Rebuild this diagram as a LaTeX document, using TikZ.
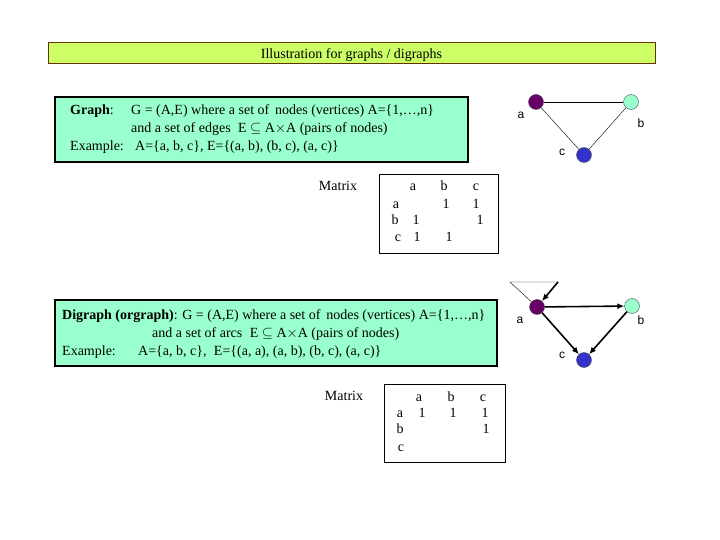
\documentclass[tikz,border=0pt]{standalone}
\usepackage{amsmath,amssymb}
\usepackage{fontspec}
\setmainfont{Liberation Serif}
\newfontfamily\labelfont{Liberation Sans}
\usetikzlibrary{arrows.meta,positioning}
\definecolor{titlelime}{RGB}{204,255,102}
\definecolor{titlebrown}{RGB}{102,51,0}
\definecolor{boxaqua}{RGB}{153,255,204}
\definecolor{vpurple}{RGB}{102,0,102}
\definecolor{vaqua}{RGB}{153,255,204}
\definecolor{vblue}{RGB}{51,51,204}
\newcommand{\vertex}[4]{%
  \node[vertex,fill=#4] (#1) at (#2,#3) {};
}
\newcommand{\mcell}[4]{%
  \node[cell] (#1) at (#2,#3) {#4};
}

\begin{document}
\begin{tikzpicture}[x=1pt,y=-1pt,font=\fontsize{14}{16}\selectfont,
    txt/.style={anchor=base west,inner sep=0pt},
    cell/.style={anchor=base,inner sep=0pt},
    vertex/.style={circle,draw=black!70,minimum size=15pt,inner sep=0pt},
    vlabel/.style={font=\labelfont\fontsize{12}{14}\selectfont,inner sep=0pt},
    arc/.style={line width=1.6pt,-{Latex[length=7pt,width=6pt]}}]
  \useasboundingbox (0,0) rectangle (720,540);
  % title bar
  \filldraw[fill=titlelime,draw=titlebrown,line width=1pt] (48,43) rectangle (655,64);
  \node[cell] (title) at (351.5,59) {Illustration for graphs / digraphs};
  % graph definition
  \filldraw[fill=boxaqua,draw=black,line width=1.2pt] (55,97) rectangle (468,162);
  \node[txt] (ghead) at (70,115) {\textbf{Graph}:};
  \node[txt] (gdef) at (131,115) {G = (A,E) where a set of\, nodes (vertices) A=\{1,\dots,n\}};
  \node[txt] (gedges) at (131,133) {and a set of edges\; E $\subseteq$ A$\times$A (pairs of nodes)};
  \node[txt] (gexlbl) at (70,151) {Example:};
  \node[txt] (gex) at (135,151) {A=\{a, b, c\}, E=\{(a, b), (b, c), (a, c)\}};
  % graph
  \vertex{ga}{536}{102}{vpurple}
  \vertex{gb}{631}{102}{vaqua}
  \vertex{gc}{584}{155}{vblue}
  \draw (ga) -- (gb);
  \draw (ga) -- (gc);
  \draw (gb) -- (gc);
  \node[vlabel] (gla) at (521,115) {a};
  \node[vlabel] (glb) at (641,123) {b};
  \node[vlabel] (glc) at (562,152) {c};
  % adjacency matrix of the graph
  \node (gmatlbl) at (338,186) {Matrix};
  \draw (379,174) rectangle (498,253);
  \mcell{g0a}{413}{191}{a}
  \mcell{g0b}{444}{191}{b}
  \mcell{g0c}{476}{191}{c}
  \mcell{ga0}{396}{209}{a}
  \mcell{gb0}{395}{225}{b}
  \mcell{gc0}{398}{241}{c}
  \mcell{gab}{446}{209}{1}
  \mcell{gac}{476}{209}{1}
  \mcell{gba}{416}{225}{1}
  \mcell{gbc}{480}{225}{1}
  \mcell{gca}{417}{241}{1}
  \mcell{gcb}{449}{241}{1}
  % digraph definition
  \filldraw[fill=boxaqua,draw=black,line width=1.2pt] (55,300) rectangle (497,366);
  \node[txt] (dhead) at (62,319) {\textbf{Digraph (orgraph)}: G = (A,E) where a set of\, nodes (vertices) A=\{1,\dots,n\}};
  \node[txt] (darcs) at (152,337) {and a set of arcs\; E $\subseteq$ A$\times$A (pairs of nodes)};
  \node[txt] (dexlbl) at (62,355) {Example:};
  \node[txt] (dex) at (138,355) {A=\{a, b, c\},\; E=\{(a, a), (a, b), (b, c), (a, c)\}};
  % digraph
  \vertex{da}{537}{307}{vpurple}
  \vertex{db}{632}{306}{vaqua}
  \vertex{dc}{584}{360}{vblue}
  \coordinate (loopl) at (510,282);
  \coordinate (loopr) at (558,282);
  \draw (da) -- (loopl) -- (loopr);
  \draw[arc] (loopr) -- (da);
  \draw[arc] (da) -- (db);
  \draw[arc] (da) -- (dc);
  \draw[arc] (db) -- (dc);
  \node[vlabel] (dla) at (520,320) {a};
  \node[vlabel] (dlb) at (641,320) {b};
  \node[vlabel] (dlc) at (562,355) {c};
  % adjacency matrix of the digraph
  \node (dmatlbl) at (344,396) {Matrix};
  \draw (384,384) rectangle (505,462);
  \mcell{d0a}{419}{401}{a}
  \mcell{d0b}{451}{401}{b}
  \mcell{d0c}{483}{401}{c}
  \mcell{da0}{400}{417}{a}
  \mcell{db0}{400}{433}{b}
  \mcell{dc0}{401}{451}{c}
  \mcell{daa}{422}{417}{1}
  \mcell{dab}{453}{417}{1}
  \mcell{dac}{485}{417}{1}
  \mcell{dbc}{486}{433}{1}
\end{tikzpicture}
\end{document}
